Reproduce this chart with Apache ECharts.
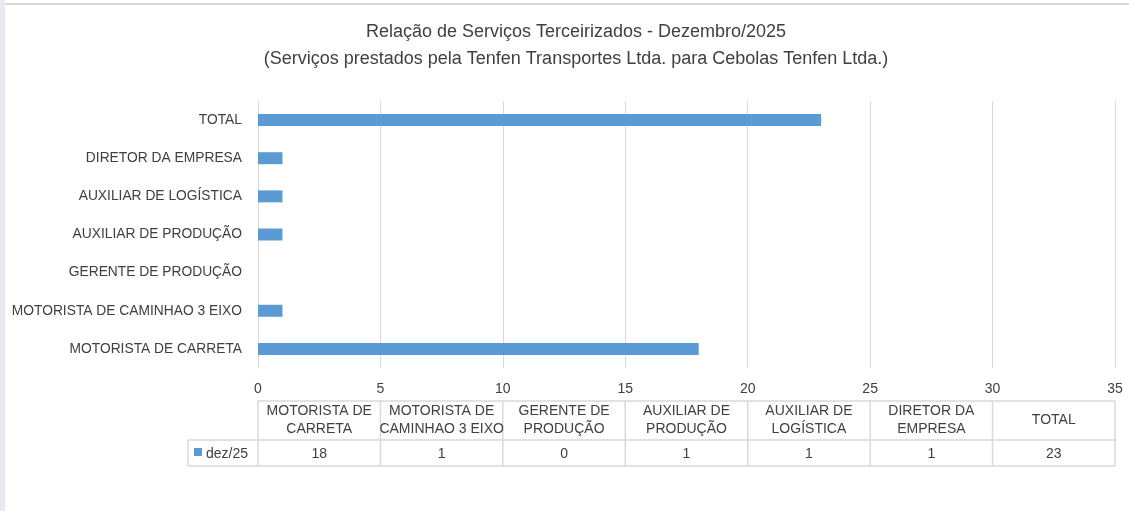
<!DOCTYPE html>
<html>
<head>
<meta charset="utf-8">
<script src="https://cdn.jsdelivr.net/npm/echarts@6/dist/echarts.min.js"></script>
<style>
  html, body { margin: 0; padding: 0; background: #fff; }
  #main { width: 1129px; height: 511px; }
</style>
</head>
<body>
<div id="main"></div>
<script>
'use strict';

// categorias (de baixo para cima no eixo)
const categorias = ['MOTORISTA DE CARRETA', 'MOTORISTA DE CAMINHAO 3 EIXO', 'GERENTE DE PRODUÇÃO',
    'AUXILIAR DE PRODUÇÃO', 'AUXILIAR DE LOGÍSTICA', 'DIRETOR DA EMPRESA', 'TOTAL'];
// cabeçalho da tabela de dados
const rotulosTabela = ['MOTORISTA DE\nCARRETA', 'MOTORISTA DE\nCAMINHAO 3 EIXO', 'GERENTE DE\nPRODUÇÃO',
    'AUXILIAR DE\nPRODUÇÃO', 'AUXILIAR DE\nLOGÍSTICA', 'DIRETOR DA\nEMPRESA', 'TOTAL'];
const valores = [18, 1, 0, 1, 1, 1, 23];
const serieNome = 'dez/25';
const eixoMin = 0, eixoMax = 35, eixoIntervalo = 5;

const fonte = 'Liberation Sans';
const corTexto = '#404040';
const corGrade = '#d9d9d9';
const corBarra = '#5b9bd5';

let chart = echarts.init(document.getElementById('main'));

let option = {
    animation: false,
    backgroundColor: '#fff',
    textStyle: { fontFamily: fonte },
    title: {
        text: 'Relação de Serviços Terceirizados - Dezembro/2025\n(Serviços prestados pela Tenfen Transportes Ltda. para Cebolas Tenfen Ltda.)',
        left: 571,
        textAlign: 'center',
        top: 14,
        textStyle: { fontFamily: fonte, fontSize: 18, fontWeight: 'normal', color: corTexto, lineHeight: 27 }
    },
    grid: { left: 258, right: 14, top: 101, bottom: 143 },
    xAxis: {
        type: 'value',
        min: eixoMin,
        max: eixoMax,
        interval: eixoIntervalo,
        axisLine: { show: false },
        axisTick: { show: false },
        splitLine: { lineStyle: { color: corGrade, width: 1 } },
        axisLabel: { color: corTexto, fontSize: 14, margin: 14, fontFamily: fonte }
    },
    yAxis: {
        type: 'category',
        data: categorias,
        axisLine: { show: false },
        axisTick: { show: false },
        axisLabel: { color: corTexto, fontSize: 13.8, margin: 16, fontFamily: fonte }
    },
    series: [{
        name: serieNome,
        type: 'bar',
        data: valores,
        barWidth: 12,
        itemStyle: { color: corBarra }
    }]
};
chart.setOption(option);

// tabela de dados abaixo do gráfico, alinhada à área de plotagem
let montarTabela = function(){
    let x0 = chart.convertToPixel({ xAxisIndex: 0 }, eixoMin);
    let x1 = chart.convertToPixel({ xAxisIndex: 0 }, eixoMax);
    let larg = (x1 - x0) / categorias.length;
    let yTopo = 401, yMeio = 440, yBase = 466, xLegenda = 188;
    let linha = { stroke: corGrade, lineWidth: 1.5 };
    let fonteTab = '14px "' + fonte + '"';
    let els = [];

    // borda externa da imagem
    els.push({ type: 'rect', shape: { x: 0, y: 0, width: 5, height: 511 }, style: { fill: '#e9e9f1' }, silent: true });
    els.push({ type: 'line', shape: { x1: 5, y1: 4, x2: 1129, y2: 4 }, style: { stroke: '#d9d9d9', lineWidth: 2 }, silent: true });

    els.push({ type: 'line', shape: { x1: x0, y1: yTopo, x2: x1, y2: yTopo }, style: linha });
    els.push({ type: 'line', shape: { x1: xLegenda, y1: yMeio, x2: x1, y2: yMeio }, style: linha });
    els.push({ type: 'line', shape: { x1: xLegenda, y1: yBase, x2: x1, y2: yBase }, style: linha });
    els.push({ type: 'line', shape: { x1: xLegenda, y1: yMeio, x2: xLegenda, y2: yBase }, style: linha });
    for (let i = 0; i <= categorias.length; i++) {
        let x = x0 + larg * i;
        els.push({ type: 'line', shape: { x1: x, y1: yTopo, x2: x, y2: yBase }, style: linha });
    }
    rotulosTabela.forEach(function(r, i){
        els.push({
            type: 'text', x: x0 + larg * (i + 0.5), y: (yTopo + yMeio) / 2,
            style: { text: r, fill: corTexto, font: fonteTab, align: 'center', verticalAlign: 'middle', lineHeight: 18 }
        });
        els.push({
            type: 'text', x: x0 + larg * (i + 0.5), y: (yMeio + yBase) / 2 + 1,
            style: { text: String(valores[i]), fill: corTexto, font: fonteTab, align: 'center', verticalAlign: 'middle' }
        });
    });
    // chave da legenda
    els.push({ type: 'rect', shape: { x: 194, y: 448, width: 8, height: 8 }, style: { fill: corBarra } });
    els.push({
        type: 'text', x: 206, y: (yMeio + yBase) / 2 + 1,
        style: { text: serieNome, fill: corTexto, font: fonteTab, align: 'left', verticalAlign: 'middle' }
    });
    chart.setOption({ graphic: { elements: els } });
};
montarTabela();
</script>
</body>
</html>
